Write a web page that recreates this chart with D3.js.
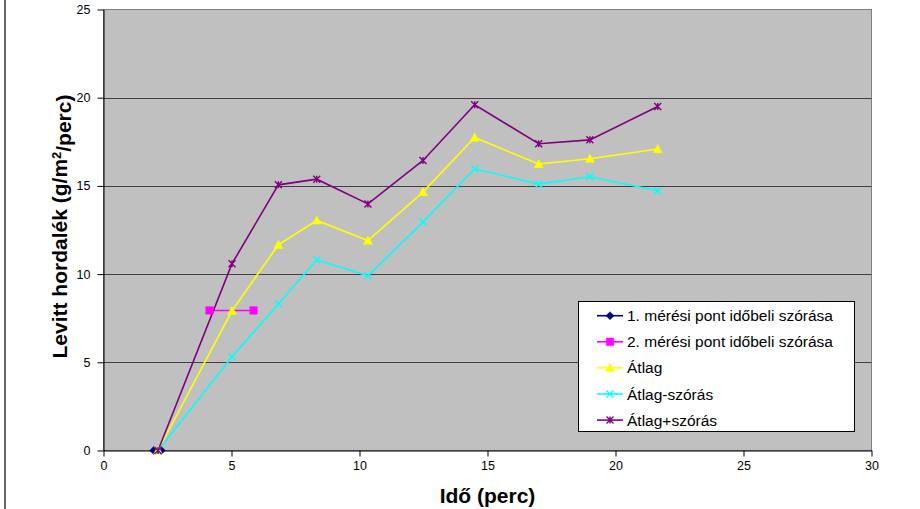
<!DOCTYPE html>
<html>
<head>
<meta charset="utf-8">
<script src="https://cdn.jsdelivr.net/npm/d3@7"></script>
<style>
  html, body { margin: 0; padding: 0; background: #fff; }
  svg { display: block; font-family: "Liberation Sans", Arial, sans-serif; }
</style>
</head>
<body>
<svg id="chart" width="920" height="509"></svg>
<script>
// ---- data ----
const xTime = [2.13, 5.02, 6.83, 8.33, 10.33, 12.48, 14.5, 17.0, 19.0, 21.65];
const atlag = [0, 7.92, 11.66, 13.04, 11.9, 14.65, 17.74, 16.24, 16.54, 17.09];
const atlagMinus = [0, 5.31, 8.3, 10.81, 9.9, 12.95, 15.97, 15.1, 15.52, 14.72];
const atlagPlus = [0, 10.59, 15.06, 15.38, 13.98, 16.44, 19.6, 17.39, 17.61, 19.5];
const pont1X = [1.96, 2.26];
const pont1Y = [0, 0];
const pont2X = [4.14, 5.86];
const pont2Y = [7.94, 7.94];
const xTicks = [0, 5, 10, 15, 20, 25, 30];
const yTicks = [0, 5, 10, 15, 20, 25];
const seriesNames = ["1. mérési pont időbeli szórása", "2. mérési pont időbeli szórása", "Átlag", "Átlag-szórás", "Átlag+szórás"];
const seriesColors = ["#000080", "#FF00FF", "#FFFF00", "#00FFFF", "#800080"];
const seriesMarkers = ["diamond", "square", "triangle", "cross", "star"];
const xTitle = "Idő (perc)";

const series = [
  { xs: pont1X, ys: pont1Y },
  { xs: pont2X, ys: pont2Y },
  { xs: xTime, ys: atlag },
  { xs: xTime, ys: atlagMinus },
  { xs: xTime, ys: atlagPlus }
].map((s, i) => ({ name: seriesNames[i], color: seriesColors[i], marker: seriesMarkers[i],
  pts: s.xs.map((x, j) => [x, s.ys[j]]) }));

// ---- layout ----
const L = 103.5, R = 871.5, T = 9.5, B = 450.5;
const svg = d3.select("#chart");
const x = d3.scaleLinear().domain([0, 30]).range([L, R]);
const y = d3.scaleLinear().domain([0, 25]).range([B, T]);

// outer frame line on the left
svg.append("line").attr("x1", 5).attr("x2", 5).attr("y1", 0).attr("y2", 509)
  .attr("stroke", "#333").attr("stroke-width", 1.5);

// plot background
svg.append("rect").attr("x", L).attr("y", T).attr("width", R - L).attr("height", B - T)
  .attr("fill", "#C0C0C0").attr("stroke", "#808080").attr("stroke-width", 1);

// grid
svg.append("g").selectAll("line").data(yTicks.filter(v => v > 0 && v < 25)).join("line")
  .attr("x1", L).attr("x2", R)
  .attr("y1", d => Math.round(y(d)) + 0.5).attr("y2", d => Math.round(y(d)) + 0.5)
  .attr("stroke", "#404040").attr("stroke-width", 1);

// axes
const yAxis = svg.append("g").attr("transform", `translate(${L},0)`)
  .call(d3.axisLeft(y).tickValues(yTicks).tickSize(6).tickSizeOuter(0).tickPadding(7));
const xAxis = svg.append("g").attr("transform", `translate(0,${B})`)
  .call(d3.axisBottom(x).tickValues(xTicks).tickSize(6).tickSizeOuter(0).tickPadding(5));
[yAxis, xAxis].forEach(a => {
  a.select(".domain").attr("stroke", "#000");
  a.selectAll(".tick line").attr("stroke", "#000");
  a.selectAll(".tick text").attr("fill", "#000").style("font-size", "12.5px")
    .style("font-family", "'Liberation Sans', Arial, sans-serif");
});

// marker path generator
function markerPath(type, s) {
  const h = s / 2;
  switch (type) {
    case "diamond": return `M0,${-h}L${h},0L0,${h}L${-h},0Z`;
    case "square": return `M${-h},${-h}H${h}V${h}H${-h}Z`;
    case "triangle": return `M0,${-h}L${h},${h * 0.8}L${-h},${h * 0.8}Z`;
    case "cross": return `M${-h},${-h}L${h},${h}M${h},${-h}L${-h},${h}`;
    case "star": return `M${-h},${-h}L${h},${h}M${h},${-h}L${-h},${h}M0,${-h}V${h}`;
  }
}
function drawMarker(g, type, color) {
  const filled = type === "diamond" || type === "square" || type === "triangle";
  const size = type === "diamond" ? 8 : type === "square" ? 7.5 : type === "triangle" ? 9 : 7;
  g.append("path").attr("d", markerPath(type, size))
    .attr("fill", filled ? color : "none")
    .attr("stroke", color).attr("stroke-width", filled ? 0.5 : 1.4);
}

const line = d3.line().x(d => x(d[0])).y(d => y(d[1]));
const plot = svg.append("g");
series.forEach(s => {
  plot.append("path").datum(s.pts).attr("d", line)
    .attr("fill", "none").attr("stroke", s.color).attr("stroke-width", 1.6);
});
series.forEach(s => {
  s.pts.forEach(p => {
    const g = plot.append("g").attr("transform", `translate(${x(p[0])},${y(p[1])})`);
    drawMarker(g, s.marker, s.color);
  });
});

// axis titles
svg.append("text").attr("x", 487.5).attr("y", 503).attr("text-anchor", "middle")
  .style("font-size", "21px").style("font-weight", "bold").text(xTitle);
const yt = svg.append("text").attr("transform", "translate(67,226.5) rotate(-90)")
  .attr("text-anchor", "middle").style("font-size", "21px").style("font-weight", "bold");
yt.append("tspan").text("Levitt hordalék (g/m");
yt.append("tspan").attr("dy", "-0.5em").style("font-size", "13px").text("2");
yt.append("tspan").attr("dy", "0.5em").text("/perc)");

// legend
const lg = svg.append("g");
lg.append("rect").attr("x", 578.5).attr("y", 301.5).attr("width", 276).attr("height", 130)
  .attr("fill", "#fff").attr("stroke", "#000").attr("stroke-width", 1);
series.forEach((s, i) => {
  const cy = 315.7 + i * 26.1;
  lg.append("line").attr("x1", 597).attr("x2", 623).attr("y1", cy).attr("y2", cy)
    .attr("stroke", s.color).attr("stroke-width", 1.6);
  const g = lg.append("g").attr("transform", `translate(610,${cy})`);
  drawMarker(g, s.marker, s.color);
  lg.append("text").attr("x", 627).attr("y", cy + 5.5)
    .style("font-size", "15.5px").attr("fill", "#000").text(s.name);
});
</script>
</body>
</html>
